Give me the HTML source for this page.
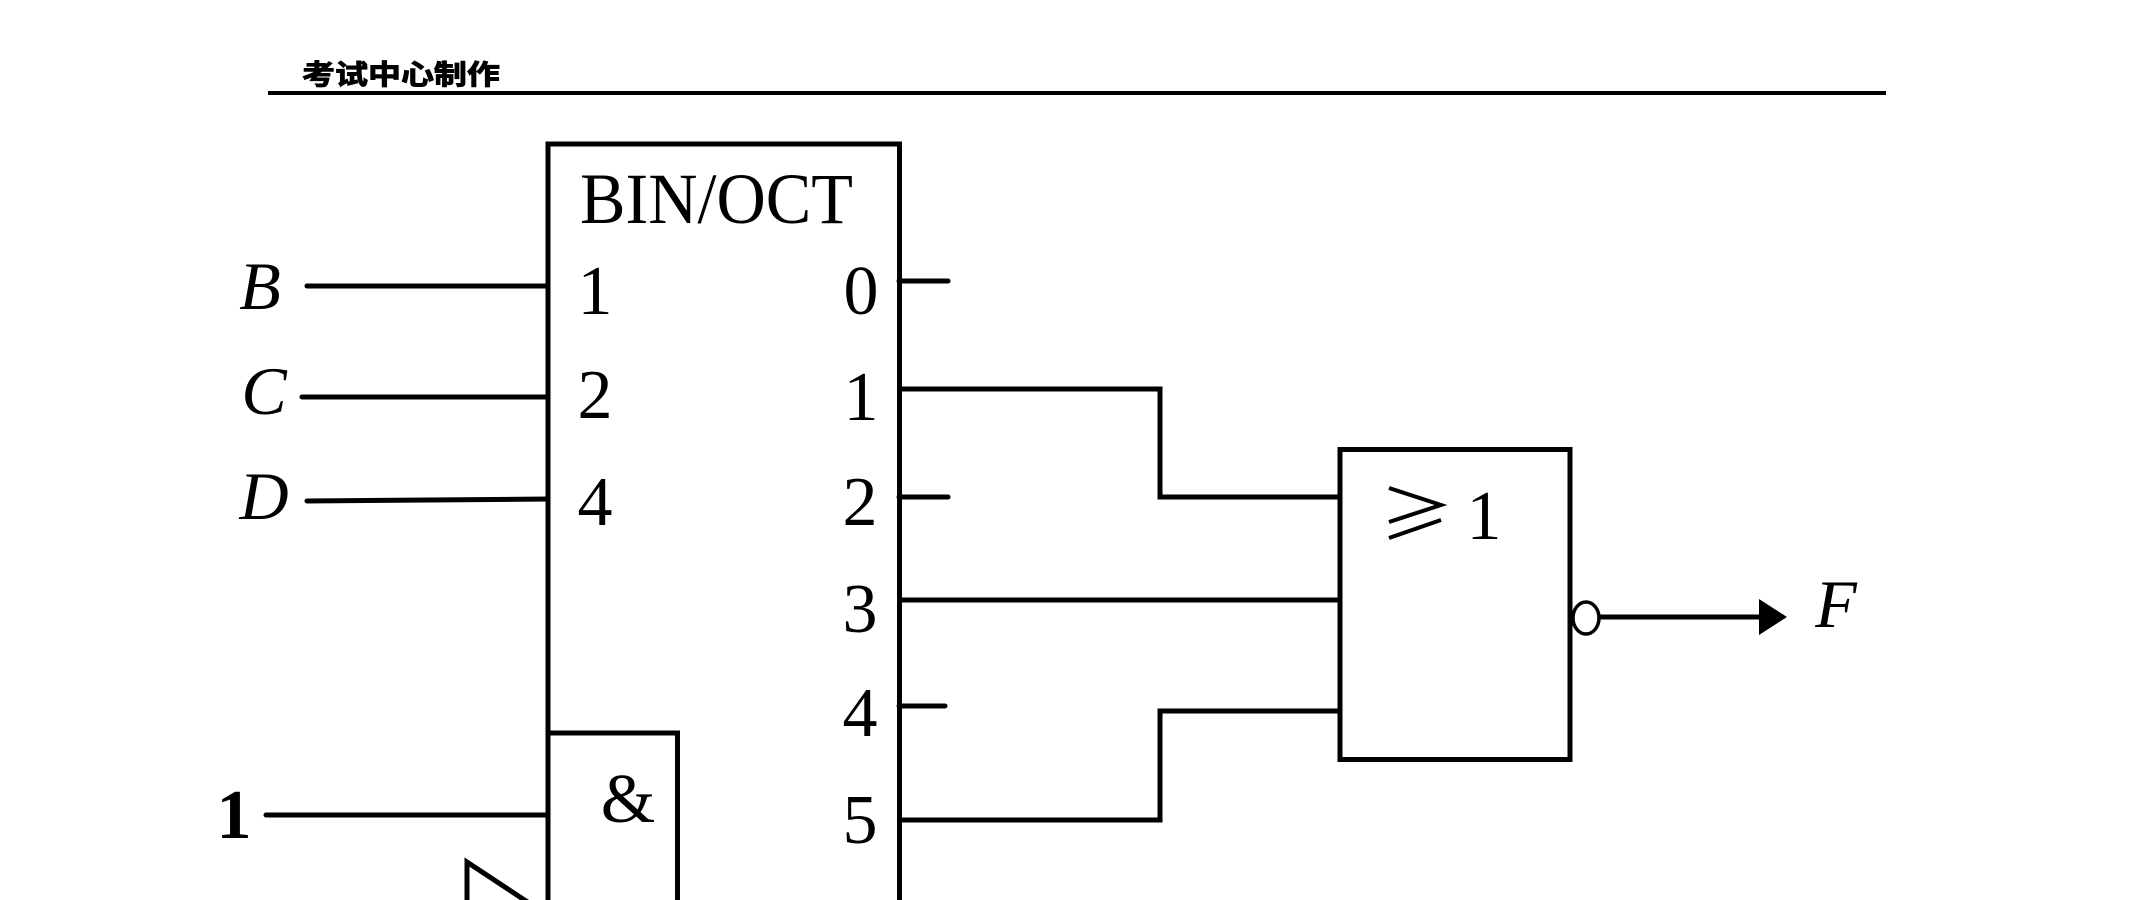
<!DOCTYPE html>
<html>
<head>
<meta charset="utf-8">
<style>
  html, body { margin: 0; padding: 0; background: #fff; }
  body { width: 2149px; height: 900px; overflow: hidden; }
  svg { display: block; }
  .t { font-family: "Liberation Serif", "DejaVu Serif", serif; fill: #000; }
  .cjk { font-family: "Liberation Sans", "Noto Sans CJK SC", "WenQuanYi Zen Hei", sans-serif; font-weight: 700; fill: #000; stroke: #000; stroke-width: 0.9; }
</style>
</head>
<body>
<svg width="2149" height="900" viewBox="0 0 2149 900" xmlns="http://www.w3.org/2000/svg">
  <rect x="0" y="0" width="2149" height="900" fill="#fff"/>

  <!-- Header -->
  <g transform="translate(302,84) scale(1.2,1)">
    <text class="cjk" x="0" y="0" font-size="27.5">考试中心制作</text>
  </g>
  <line x1="268" y1="93" x2="1886" y2="93" stroke="#000" stroke-width="4"/>

  <g fill="none" stroke="#000" stroke-width="5" stroke-linecap="butt" stroke-linejoin="miter">
    <!-- Decoder box -->
    <path d="M548,905 V144 H899.5 V905"/>
    <!-- & box -->
    <path d="M548,733 H677.5 V905"/>
    <!-- Input lines -->
    <line x1="307" y1="286" x2="548" y2="286" stroke-linecap="round"/>
    <line x1="302" y1="397" x2="548" y2="397" stroke-linecap="round"/>
    <line x1="307" y1="501" x2="548" y2="499" stroke-linecap="round"/>
    <line x1="266" y1="815" x2="548" y2="815" stroke-linecap="round"/>
    <!-- Output stubs -->
    <line x1="899" y1="281" x2="948" y2="281" stroke-linecap="round"/>
    <line x1="899" y1="497" x2="948" y2="497" stroke-linecap="round"/>
    <line x1="899" y1="706" x2="945" y2="706" stroke-linecap="round"/>
    <!-- Connections to gate -->
    <path d="M899,389 H1160 V497 H1340"/>
    <line x1="899" y1="600" x2="1340" y2="600"/>
    <path d="M899,820 H1160 V711 H1340"/>
    <!-- OR gate box -->
    <rect x="1340" y="449.5" width="230" height="310"/>
    <!-- Output line -->
    <line x1="1599" y1="617" x2="1762" y2="617"/>
    <!-- Triangle at bottom -->
    <path d="M467,905 V862 L532,905"/>
  </g>

  <!-- bubble -->
  <ellipse cx="1586" cy="618" rx="13" ry="16" fill="none" stroke="#000" stroke-width="3.5"/>
  <!-- arrowhead -->
  <polygon points="1759,599 1787,617 1759,635" fill="#000"/>

  <!-- ⩾ symbol -->
  <g stroke="#000" stroke-width="4" fill="none" stroke-linecap="butt">
    <polyline points="1389,488 1441,505 1389,522"/>
    <line x1="1389" y1="538" x2="1441" y2="520"/>
  </g>

  <!-- Texts -->
  <text class="t" x="580" y="223" font-size="72" textLength="273" lengthAdjust="spacingAndGlyphs">BIN/OCT</text>

  <text class="t" x="595" y="314" font-size="70" text-anchor="middle">1</text>
  <text class="t" x="595" y="418" font-size="70" text-anchor="middle">2</text>
  <text class="t" x="595" y="525" font-size="70" text-anchor="middle">4</text>

  <text class="t" x="861" y="314" font-size="70" text-anchor="middle">0</text>
  <text class="t" x="861" y="420" font-size="70" text-anchor="middle">1</text>
  <text class="t" x="860" y="525" font-size="70" text-anchor="middle">2</text>
  <text class="t" x="860" y="632" font-size="70" text-anchor="middle">3</text>
  <text class="t" x="860" y="736" font-size="70" text-anchor="middle">4</text>
  <text class="t" x="860" y="843" font-size="70" text-anchor="middle">5</text>

  <text class="t" x="628" y="822" font-size="70" text-anchor="middle">&amp;</text>

  <text class="t" x="260" y="309" font-size="68" font-style="italic" text-anchor="middle">B</text>
  <text class="t" x="264" y="414" font-size="68" font-style="italic" text-anchor="middle">C</text>
  <text class="t" x="264" y="519" font-size="68" font-style="italic" text-anchor="middle">D</text>
  <text class="t" x="234" y="838" font-size="70" font-weight="700" text-anchor="middle">1</text>

  <text class="t" x="1484" y="539" font-size="70" text-anchor="middle">1</text>
  <text class="t" x="1836" y="627" font-size="68" font-style="italic" text-anchor="middle">F</text>
</svg>
</body>
</html>
